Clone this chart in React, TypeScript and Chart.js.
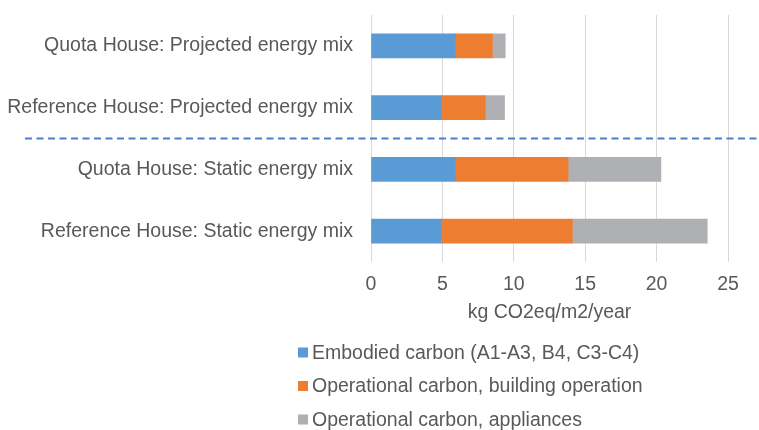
import React, { useEffect, useRef } from "react";
import { Chart, registerables } from "chart.js";

Chart.register(...registerables);

const categories = [
  "Quota House: Projected energy mix",
  "Reference House: Projected energy mix",
  "Quota House: Static energy mix",
  "Reference House: Static energy mix",
];
const embodied = [5.9, 4.9, 5.9, 4.9];
const operationalBuilding = [2.6, 3.1, 7.9, 9.2];
const operationalAppliances = [0.9, 1.35, 6.5, 9.45];
const seriesNames = [
  "Embodied carbon (A1-A3, B4, C3-C4)",
  "Operational carbon, building operation",
  "Operational carbon, appliances",
];
const seriesColors = ["#5b9bd5", "#ed7d31", "#afb0b3"];
const xTicks = [0, 5, 10, 15, 20, 25];
const axisTitle = "kg CO2eq/m2/year";

const FONT = "'Liberation Sans', Arial, sans-serif";
const TEXT = "#595959";

const dividerPlugin = {
  id: "divider",
  afterDatasetsDraw(chart: any) {
    const ctx = chart.ctx;
    const y = chart.scales.y.getPixelForValue(1.5);
    ctx.save();
    ctx.strokeStyle = "#4a7ecb";
    ctx.lineWidth = 2;
    ctx.setLineDash([7, 4.5]);
    ctx.beginPath();
    ctx.moveTo(25, y);
    ctx.lineTo(757, y);
    ctx.stroke();
    ctx.restore();
  },
};

const legendPlugin = {
  id: "vlegend",
  afterDraw(chart: any) {
    const ctx = chart.ctx;
    ctx.save();
    ctx.font = `19.5px ${FONT}`;
    ctx.textBaseline = "middle";
    ctx.textAlign = "left";
    const x0 = 298;
    const y0 = 352.5;
    const step = 33.5;
    chart.data.datasets.forEach((ds: any, i: number) => {
      const cy = y0 + i * step;
      ctx.fillStyle = ds.backgroundColor;
      ctx.fillRect(x0, cy - 5, 10, 10);
      ctx.fillStyle = TEXT;
      ctx.fillText(ds.label, x0 + 14, cy + 1);
    });
    ctx.restore();
  },
};

export default function App() {
  const ref = useRef<HTMLCanvasElement>(null);
  useEffect(() => {
    if (!ref.current) return;
    const values = [embodied, operationalBuilding, operationalAppliances];
    const chart = new Chart(ref.current, {
      type: "bar",
      data: {
        labels: categories,
        datasets: values.map((v, i) => ({
          label: seriesNames[i],
          data: v,
          backgroundColor: seriesColors[i],
          borderColor: "#ffffff",
          borderWidth: 0,
          barThickness: 24,
        })),
      },
      options: {
        indexAxis: "y",
        animation: false,
        responsive: false,
        layout: { padding: { top: 15, right: 31, left: 0, bottom: 106 } },
        plugins: { legend: { display: false }, tooltip: { enabled: false } },
        scales: {
          x: {
            stacked: true,
            min: 0,
            max: 25,
            afterBuildTicks: (s: any) => {
              s.ticks = xTicks.map((v) => ({ value: v }));
            },
            afterFit: (s: any) => {
              s.height = 62;
              s.paddingLeft = 0;
              s.paddingRight = 0;
            },
            grid: { color: "#d9d9d9", lineWidth: 1, drawTicks: false },
            border: { display: false },
            ticks: {
              color: TEXT,
              font: { family: FONT, size: 19.5 },
              padding: 11,
            },
            title: {
              display: true,
              text: axisTitle,
              color: TEXT,
              font: { family: FONT, size: 19.5 },
              padding: 0,
            },
          },
          y: {
            stacked: true,
            afterFit: (s: any) => {
              s.width = 371;
              s.paddingTop = 0;
              s.paddingBottom = 0;
            },
            grid: { display: false, drawTicks: false },
            border: { display: false },
            ticks: {
              color: TEXT,
              font: { family: FONT, size: 19.5 },
              padding: 18,
            },
          },
        },
      },
      plugins: [dividerPlugin, legendPlugin],
    });
    return () => chart.destroy();
  }, []);
  return (
    <div style={{ position: "absolute", left: 0, top: 0, width: 759, height: 430, background: "#fff" }}>
      <canvas ref={ref} width={759} height={430} style={{ display: "block" }} />
    </div>
  );
}
